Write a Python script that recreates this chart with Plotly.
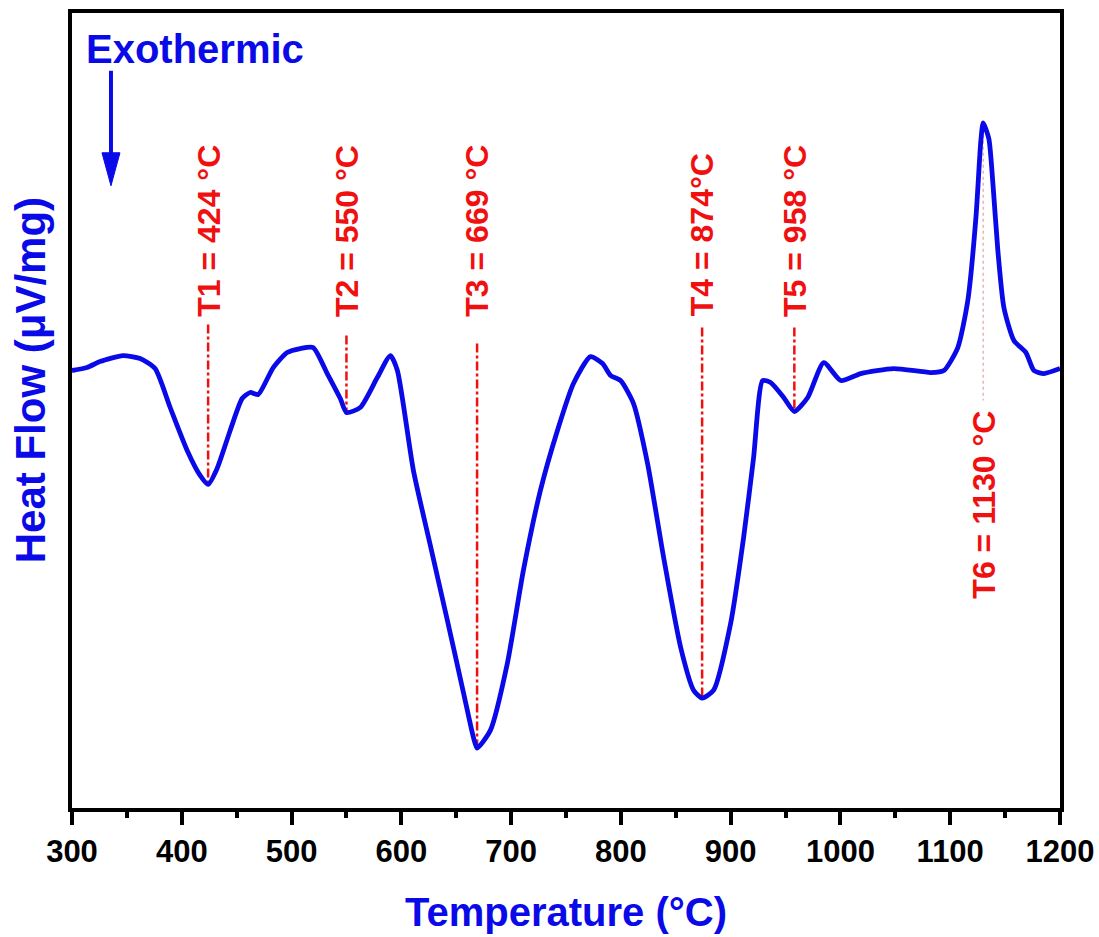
import plotly.graph_objects as go

# DSC curve (temperature in °C, heat flow in arbitrary µV/mg units)
temperature = [300, 313.7, 325.5, 346.5, 362, 375.7, 389.4, 404.9, 416.7, 424, 432.2, 444.1, 455,
               462.3, 469.6, 483.3, 496, 507.9, 519.7, 532.5, 544.4, 550, 562.6, 578.1, 590, 596.4,
               611, 626.4, 641.9, 656.5, 665.6, 669, 681.2, 696.6, 711.2, 726.7, 742.2, 756.8, 772.3,
               783.3, 790.6, 799.7, 811.5, 824.3, 838.9, 854.4, 866.2, 874, 884.5, 900, 911.8, 920.9,
               929.2, 936.4, 948.3, 958, 970.2, 984.8, 1000.3, 1018.5, 1048.6, 1082.3, 1094.2, 1106.9,
               1116, 1123.4, 1127.9, 1130, 1135.2, 1138.9, 1143.4, 1148.9, 1158, 1169, 1176.2, 1185.4, 1200]
heat_flow = [0.0, 0.03, 0.09, 0.15, 0.12, 0.02, -0.37, -0.80, -1.05, -1.14, -0.98, -0.60, -0.28,
             -0.22, -0.24, 0.03, 0.18, 0.22, 0.23, -0.03, -0.28, -0.42, -0.37, -0.07, 0.15, 0.00,
             -1.00, -1.75, -2.50, -3.22, -3.67, -3.78, -3.60, -2.93, -2.00, -1.20, -0.60, -0.13, 0.14,
             0.07, -0.05, -0.10, -0.33, -0.93, -1.87, -2.77, -3.20, -3.28, -3.20, -2.53, -1.67, -0.87,
             -0.10, -0.12, -0.27, -0.41, -0.27, 0.08, -0.10, -0.03, 0.02, -0.02, 0.00, 0.23,
             0.70, 1.53, 2.30, 2.48, 2.32, 1.87, 1.20, 0.63, 0.30, 0.18, 0.00, -0.03, 0.02]

# Peak markers
peak_temps = [424, 550, 669, 874, 958]
peak_values = [-1.14, -0.42, -3.78, -3.28, -0.41]
peak_line_tops = [0.46, 0.35, 0.27, 0.43, 0.43]
peak_labels = ["T1 = 424 °C", "T2 = 550 °C", "T3 = 669 °C", "T4 = 874°C", "T5 = 958 °C"]

exo_temp = 1130
exo_value = 2.48
exo_line_bottom = -0.30
exo_label = "T6 = 1130 °C"

arrow_temp = 335.5
arrow_tip = 1.85

x_ticks = [300, 400, 500, 600, 700, 800, 900, 1000, 1100, 1200]
x_range = [300, 1200]
y_range = [-4.38, 3.58]

FONT = "Liberation Sans, Arial, sans-serif"
BLUE = "#0a0ae8"
RED = "#f01010"

fig = go.Figure()

# dash-dot markers for endothermic events
for t, v, top in zip(peak_temps, peak_values, peak_line_tops):
    fig.add_trace(go.Scatter(x=[t, t], y=[top, v], mode="lines",
                             line=dict(color=RED, width=2.5, dash="dashdot"),
                             hoverinfo="skip", showlegend=False))

# thin dotted marker for exothermic peak
fig.add_trace(go.Scatter(x=[exo_temp, exo_temp], y=[exo_value, exo_line_bottom], mode="lines",
                         line=dict(color="#e8a0a0", width=1.2, dash="dot"),
                         hoverinfo="skip", showlegend=False))

fig.add_trace(go.Scatter(x=temperature, y=heat_flow, mode="lines",
                         line=dict(color=BLUE, width=4.8, shape="spline", smoothing=0.6),
                         showlegend=False))

for t, lab in zip(peak_temps, peak_labels):
    fig.add_annotation(x=t, y=0.52, xref="x", yref="y", text=lab, showarrow=False,
                       textangle=-90, xanchor="center", yanchor="bottom",
                       font=dict(family=FONT, size=32, color=RED, weight="bold"))

fig.add_annotation(x=exo_temp, y=exo_line_bottom - 0.08, xref="x", yref="y", text=exo_label,
                   showarrow=False, textangle=-90, xanchor="center", yanchor="top",
                   font=dict(family=FONT, size=32, color=RED, weight="bold"))

# Exothermic direction
fig.add_annotation(x=0.012, y=0.955, xref="paper", yref="paper", text="Exothermic",
                   showarrow=False, xanchor="left", yanchor="middle",
                   font=dict(family=FONT, size=40, color=BLUE, weight="bold"))
# arrow shaft and head (pixel sized, anchored at arrow tip)
fig.add_shape(type="line", xref="x", yref="y", xsizemode="pixel", ysizemode="pixel",
              xanchor=arrow_temp, yanchor=arrow_tip, x0=0, x1=0, y0=28, y1=115,
              line=dict(color=BLUE, width=4))
fig.add_shape(type="path", xref="x", yref="y", xsizemode="pixel", ysizemode="pixel",
              xanchor=arrow_temp, yanchor=arrow_tip, path="M 0 0 L -9 33 L 9 33 Z",
              fillcolor=BLUE, line=dict(color=BLUE, width=1))

# axis titles
fig.add_annotation(x=0.5, y=-0.131, xref="paper", yref="paper", text="Temperature (°C)",
                   showarrow=False, xanchor="center", yanchor="middle",
                   font=dict(family=FONT, size=40, color=BLUE, weight="bold"))
fig.add_annotation(x=-0.0425, y=0.538, xref="paper", yref="paper", text="Heat Flow (μV/mg)",
                   showarrow=False, textangle=-90, xanchor="center", yanchor="middle",
                   font=dict(family=FONT, size=42, color=BLUE, weight="bold"))

fig.update_layout(
    width=1099, height=937,
    margin=dict(l=72, r=39, t=13, b=129, autoexpand=False),
    paper_bgcolor="white", plot_bgcolor="white",
    xaxis=dict(range=x_range, tickvals=x_ticks, ticktext=[str(v) for v in x_ticks],
               automargin=False,
               showgrid=False, zeroline=False, showline=True, linecolor="black", linewidth=4,
               mirror=True, ticks="outside", ticklen=13, tickwidth=4, tickcolor="black",
               minor=dict(dtick=50, ticks="outside", ticklen=6, tickwidth=4, tickcolor="black"),
               tickfont=dict(family=FONT, size=31, color="black", weight="bold")),
    yaxis=dict(range=y_range, automargin=False, showgrid=False, zeroline=False, showline=True,
               linecolor="black", linewidth=4, mirror=True, ticks="", showticklabels=False),
)

fig.write_html("out.html", config={"displayModeBar": False},
               post_script="document.body.style.margin='0';document.body.style.padding='0';")
